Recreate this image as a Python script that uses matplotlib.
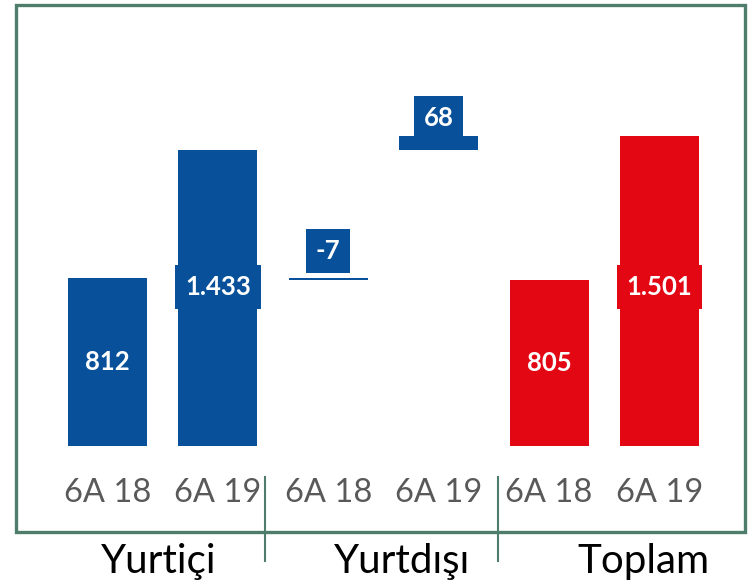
import matplotlib.pyplot as plt
from matplotlib.patches import Rectangle

plt.rcParams['font.family'] = ['Lato', 'DejaVu Sans']

# data
yurtici = [812, 1433]
yurtdisi = [-7, 68]
toplam = [805, 1501]
tick_labels = ['6A 18', '6A 19', '6A 18', '6A 19', '6A 18', '6A 19']
groups = ['Yurtiçi', 'Yurtdışı', 'Toplam']

blue = '#08519A'
red = '#E30613'
green = '#4E7D6B'

fig = plt.figure(figsize=(7.51, 5.84), dpi=100)
ax = fig.add_axes([0, 0, 1, 1])
ax.axis('off')

# pixel -> data mapping
step = 110.4
upp = 4.838  # value units per pixel
ax.set_xlim(-107.5 / step, (751 - 107.5) / step)
ax.set_ylim(-(584 - 446) * upp, 446 * upp)

def py(p):
    return (446 - p) * upp

w = 0.716
ax.bar([0, 1], yurtici, width=w, color=blue)
ax.bar([2, 3], yurtdisi, bottom=yurtici, width=w, color=blue)
ax.bar([4, 5], toplam, width=w, color=red)

def lab(x, y, s, c):
    ax.text(x, y, s, ha='center', va='center', color='white', fontsize=18.5,
            fontweight='bold',
            bbox=dict(boxstyle='square,pad=0.38', fc=c, ec='none'))

lab(0, yurtici[0] / 2, str(yurtici[0]), blue)
lab(1, py(287), '{:,}'.format(yurtici[1]).replace(',', '.'), blue)
lab(2, py(251), str(yurtdisi[0]), blue)
lab(3, py(118), str(yurtdisi[1]), blue)
lab(4, toplam[0] / 2, str(toplam[0]), red)
lab(5, py(287), '{:,}'.format(toplam[1]).replace(',', '.'), red)

for i, t in enumerate(tick_labels):
    ax.text(i, py(493), t, ha='center', va='center', color='#595959', fontsize=23.5)

for x, g in zip([159, 402, 643], groups):
    ax.text((x - 107.5) / step, py(561), g, ha='center', va='center',
            color='black', fontsize=29)

for x in [265, 498]:
    ax.plot([(x - 107.5) / step] * 2, [py(477), py(561)], color=green, lw=1.5)

fig.patches.append(Rectangle((16 / 751, (584 - 532) / 584), (745 - 16) / 751, (532 - 5) / 584,
                             transform=fig.transFigure, fill=False, ec=green, lw=2.4))

fig.savefig('out.png', dpi=100)
